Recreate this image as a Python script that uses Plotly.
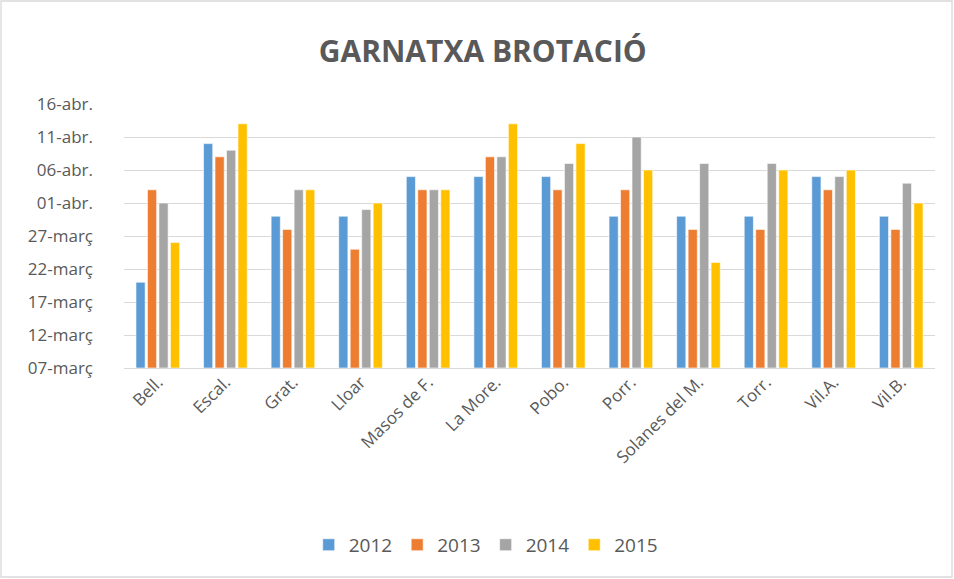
import pandas as pd
import plotly.graph_objects as go

categories = ["Bell.", "Escal.", "Grat.", "Lloar", "Masos de F.", "La More.",
              "Pobo.", "Porr.", "Solanes del M.", "Torr.", "Vil.A.", "Vil.B."]

d2012 = ["2015-03-20", "2015-04-10", "2015-03-30", "2015-03-30", "2015-04-05", "2015-04-05",
         "2015-04-05", "2015-03-30", "2015-03-30", "2015-03-30", "2015-04-05", "2015-03-30"]
d2013 = ["2015-04-03", "2015-04-08", "2015-03-28", "2015-03-25", "2015-04-03", "2015-04-08",
         "2015-04-03", "2015-04-03", "2015-03-28", "2015-03-28", "2015-04-03", "2015-03-28"]
d2014 = ["2015-04-01", "2015-04-09", "2015-04-03", "2015-03-31", "2015-04-03", "2015-04-08",
         "2015-04-07", "2015-04-11", "2015-04-07", "2015-04-07", "2015-04-05", "2015-04-04"]
d2015 = ["2015-03-26", "2015-04-13", "2015-04-03", "2015-04-01", "2015-04-03", "2015-04-13",
         "2015-04-10", "2015-04-06", "2015-03-23", "2015-04-06", "2015-04-06", "2015-04-01"]

series_names = ["2012", "2013", "2014", "2015"]
series_dates = [d2012, d2013, d2014, d2015]
colors = ["#5B9BD5", "#ED7D31", "#A5A5A5", "#FFC000"]

tick_dates = ["2015-03-07", "2015-03-12", "2015-03-17", "2015-03-22", "2015-03-27",
              "2015-04-01", "2015-04-06", "2015-04-11", "2015-04-16"]
tick_labels = ["07-març", "12-març", "17-març", "22-març", "27-març",
               "01-abr.", "06-abr.", "11-abr.", "16-abr."]

origin = pd.Timestamp("2015-03-07")

def to_days(lst):
    return [(pd.Timestamp(d) - origin).days for d in lst]

fig = go.Figure()
for name, dates, col in zip(series_names, series_dates, colors):
    fig.add_trace(go.Bar(
        x=categories, y=to_days(dates), name=name,
        marker=dict(color=col, line=dict(color="white", width=0.6)),
        customdata=dates, hovertemplate="%{x}: %{customdata}<extra>" + name + "</extra>",
    ))

font_family = "Open Sans, Noto Sans, sans-serif"
text_col = "#595959"

fig.update_layout(
    width=954, height=579,
    margin=dict(l=124, r=19, t=104, b=211),
    paper_bgcolor="white", plot_bgcolor="white",
    barmode="group", bargap=0.32, bargroupgap=0.2,
    title=dict(text="<b>GARNATXA BROTACIÓ</b>", x=0.506, xanchor="center",
               y=1 - 51 / 579, yanchor="middle",
               font=dict(family=font_family, size=30, color=text_col)),
    font=dict(family=font_family, size=16, color=text_col),
    xaxis=dict(tickangle=-45, showgrid=False, showline=False, ticks="",
               tickfont=dict(size=17, color=text_col)),
    yaxis=dict(range=[0, 40], tickvals=to_days(tick_dates), ticktext=tick_labels,
               showgrid=True, gridcolor="#D9D9D9", gridwidth=1.3,
               zeroline=True, zerolinecolor="#D9D9D9", zerolinewidth=1.3,
               showline=False, ticks="", ticklabelstandoff=30,
               tickfont=dict(size=17, color=text_col)),
    legend=dict(orientation="h", x=0.446, xanchor="center", y=-0.67, yanchor="middle",
                font=dict(size=19, color=text_col), itemwidth=30,
                traceorder="normal"),
    shapes=[dict(type="rect", xref="paper", yref="paper",
                 x0=(1 - 124) / 811, x1=(952 - 124) / 811,
                 y0=(368 - 577) / 264, y1=(368 - 1) / 264,
                 line=dict(color="#D9D9D9", width=1.3), fillcolor="rgba(0,0,0,0)",
                 layer="below")],
    showlegend=True,
)

fig.write_html("out.html", config={"displayModeBar": False},
               post_script="document.body.style.margin='0';")
